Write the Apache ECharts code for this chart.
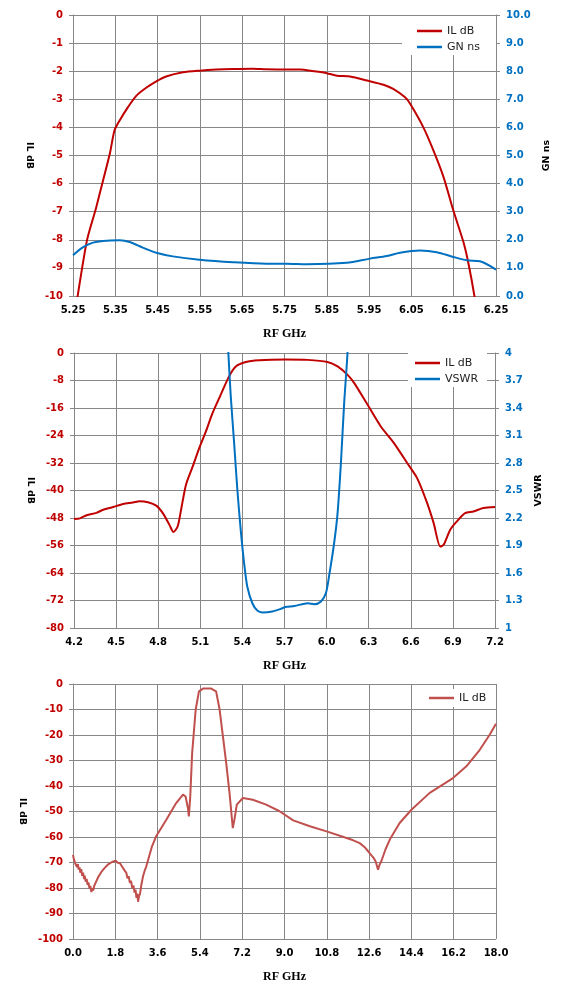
<!DOCTYPE html>
<html>
<head>
<meta charset="utf-8">
<script src="https://cdn.jsdelivr.net/npm/echarts@6/dist/echarts.min.js"></script>
<style>
html,body{margin:0;padding:0;background:#fff;}
#main{width:571px;height:1003px;}
</style>
</head>
<body>
<div id="main"></div>
<script>
// --- chart 1 : pass band, IL dB + GN ns ---
const c1IlFreq = [5.255, 5.261, 5.283, 5.303, 5.313, 5.337, 5.348, 5.360, 5.380, 5.400, 5.423, 5.447, 5.470, 5.510, 5.549, 5.589, 5.628, 5.675, 5.707, 5.754, 5.787, 5.819, 5.850, 5.874, 5.905, 5.945, 5.984, 6.007, 6.035, 6.047, 6.078, 6.102, 6.126, 6.149, 6.173, 6.185, 6.199, 6.203];
const c1Il = [-10.6, -10, -8.02, -6.95, -6.36, -4.94, -4.11, -3.76, -3.28, -2.87, -2.59, -2.36, -2.19, -2.04, -1.98, -1.94, -1.92, -1.91, -1.93, -1.94, -1.94, -2.0, -2.07, -2.16, -2.19, -2.33, -2.48, -2.63, -2.93, -3.16, -3.99, -4.82, -5.77, -6.95, -8.08, -8.85, -10, -10.5];
const c1GnFreq = [5.25, 5.274, 5.297, 5.321, 5.36, 5.384, 5.415, 5.447, 5.486, 5.549, 5.628, 5.707, 5.754, 5.803, 5.897, 5.952, 5.992, 6.023, 6.07, 6.11, 6.149, 6.181, 6.212, 6.25];
const c1Gn = [1.45, 1.74, 1.90, 1.96, 1.98, 1.92, 1.72, 1.54, 1.41, 1.29, 1.20, 1.15, 1.15, 1.13, 1.18, 1.33, 1.42, 1.54, 1.62, 1.56, 1.39, 1.27, 1.24, 0.94];

// --- chart 2 : 4.2 - 7.2 GHz, IL dB + VSWR ---
const c2IlFreq = [4.2, 4.243, 4.29, 4.36, 4.408, 4.479, 4.55, 4.62, 4.668, 4.727, 4.786, 4.833, 4.88, 4.909, 4.939, 4.963, 4.998, 5.046, 5.093, 5.14, 5.187, 5.246, 5.305, 5.353, 5.424, 5.518, 5.707, 5.865, 6.006, 6.078, 6.148, 6.196, 6.291, 6.385, 6.48, 6.574, 6.645, 6.716, 6.763, 6.81, 6.834, 6.881, 6.928, 6.987, 7.046, 7.117, 7.2];
const c2Il = [-48.3, -48.1, -47.2, -46.5, -45.6, -44.8, -43.9, -43.5, -43.1, -43.4, -44.4, -46.6, -50.0, -52.1, -50.4, -45.6, -38.3, -33.0, -27.6, -22.8, -17.5, -12.1, -6.8, -3.9, -2.6, -2.1, -1.9, -2.0, -2.6, -3.9, -6.3, -8.7, -15.0, -21.3, -26.2, -32.0, -36.4, -43.6, -49.5, -56.3, -55.8, -51.4, -49.0, -46.6, -46.1, -45.1, -44.8];
const c2VswrFreq = [5.29, 5.30, 5.317, 5.341, 5.364, 5.388, 5.412, 5.435, 5.471, 5.506, 5.542, 5.613, 5.676, 5.707, 5.771, 5.865, 5.913, 5.96, 5.995, 6.019, 6.054, 6.078, 6.102, 6.125, 6.149, 6.158];
const c2Vswr = [4.4, 4.0, 3.53, 3.02, 2.51, 2.07, 1.71, 1.45, 1.27, 1.19, 1.17, 1.18, 1.21, 1.23, 1.24, 1.27, 1.26, 1.29, 1.38, 1.58, 1.93, 2.25, 2.8, 3.45, 4.0, 4.4];

// --- chart 3 : wide band 0 - 18 GHz, IL dB (noisy below 3 GHz) ---
const c3Freq = [0.0, 0.03, 0.06, 0.1, 0.13, 0.17, 0.21, 0.24, 0.28, 0.31, 0.35, 0.39, 0.43, 0.47, 0.5, 0.54, 0.58, 0.62, 0.66, 0.7, 0.74, 0.78, 0.82, 0.86, 0.9, 0.94, 0.98, 1.03, 1.08, 1.14, 1.2, 1.27, 1.34, 1.42, 1.5, 1.58, 1.66, 1.74, 1.82, 1.9, 1.99, 2.06, 2.13, 2.2, 2.27, 2.32, 2.37, 2.42, 2.47, 2.52, 2.57, 2.62, 2.66, 2.7, 2.74, 2.77, 2.81, 2.85, 2.91, 2.98, 3.05, 3.12, 3.22, 3.35, 3.54, 3.97, 4.39, 4.68, 4.79, 4.89, 4.93, 4.99, 5.07, 5.22, 5.36, 5.53, 5.88, 6.09, 6.24, 6.38, 6.52, 6.66, 6.8, 6.87, 6.97, 7.23, 7.65, 8.22, 8.79, 9.37, 10.08, 10.79, 11.64, 11.9, 12.2, 12.4, 12.55, 12.7, 12.8, 12.88, 12.93, 12.98, 13.05, 13.12, 13.3, 13.48, 13.9, 14.4, 15.18, 16.17, 16.74, 17.31, 17.73, 18.0];
const c3Il = [-67, -68.5, -67.8, -70.5, -69.8, -71.8, -70.6, -72.8, -71.9, -74, -72.6, -75.2, -74, -76.5, -75.2, -77.5, -76.4, -78.8, -77.8, -80.2, -79.2, -81.6, -80.2, -81, -79.2, -79.8, -77.6, -77.8, -75.6, -75.5, -73.8, -73.6, -72.2, -71.9, -70.7, -70.9, -69.8, -70.3, -69.3, -70.1, -70.2, -71.2, -71.5, -73.2, -74.1, -76.2, -75.4, -78, -77.2, -80, -79, -81.8, -80.6, -83.9, -82.2, -85.4, -83.2, -82.4, -78.7, -75.4, -73.2, -71.5, -68.2, -64, -59.7, -53.2, -46.7, -43.4, -44.1, -48.6, -51.9, -44.1, -27.1, -10.1, -2.9, -1.8, -1.8, -2.9, -10.1, -20.5, -31, -42.7, -56.5, -53.2, -47.3, -44.7, -45.4, -47.3, -49.9, -53.5, -55.8, -57.8, -60.4, -61.2, -62.4, -63.9, -65.5, -67.2, -68.3, -69.6, -69.2, -72.8, -70.8, -69.5, -64.8, -61, -54.5, -49.3, -42.7, -36.9, -32.3, -25.8, -19.9, -15.6];

const zip = (a, b) => a.map((v, i) => [v, b[i]]);

const RED = '#C00000', BLUE = '#0070C0', RED3 = '#C0504D', GRID = '#878787';
const tickFont = {fontFamily: 'DejaVu Sans', fontWeight: 'bold', fontSize: 10};

function xAx(gi, min, max, step, dec){
    return {
        type: 'value', gridIndex: gi, min: min, max: max, interval: step,
        name: 'RF GHz', nameLocation: 'middle', nameGap: 32,
        nameTextStyle: {fontFamily: 'Liberation Serif', fontWeight: 'bold', fontSize: 12, color: '#000'},
        axisLine: {lineStyle: {color: GRID}},
        axisTick: {show: true, length: 4, lineStyle: {color: GRID}},
        axisLabel: Object.assign({color: '#000', margin: 9, formatter: v => v.toFixed(dec)}, tickFont),
        splitLine: {show: true, lineStyle: {color: GRID, width: 1}}
    };
}
function yAx(gi, pos, min, max, step, name, gap, color, fmt, split){
    return {
        type: 'value', gridIndex: gi, position: pos, min: min, max: max, interval: step,
        name: name, nameLocation: 'middle', nameGap: gap, nameRotate: pos === 'left' ? -90 : 90,
        nameTextStyle: {fontFamily: 'DejaVu Sans', fontWeight: 'bold', fontSize: 9.5, color: '#000'},
        axisLine: {show: true, lineStyle: {color: GRID}},
        axisTick: {show: true, length: 4, lineStyle: {color: GRID}},
        axisLabel: Object.assign({color: color, margin: 10, formatter: fmt}, tickFont),
        splitLine: {show: split, lineStyle: {color: GRID, width: 1}}
    };
}
function legend(left, top, pad, items){
    return {
        left: left, top: top, orient: 'vertical', align: 'left',
        backgroundColor: '#fff', padding: pad, itemGap: 2,
        icon: 'rect', itemWidth: 25, itemHeight: 2.5,
        textStyle: {fontFamily: 'DejaVu Sans', fontSize: 11, color: '#222', lineHeight: 14},
        data: items
    };
}

const myChart = echarts.init(document.getElementById('main'));

const option = {
    animation: false,
    backgroundColor: '#fff',
    grid: [
        {left: 73, top: 15, width: 423, height: 281},
        {left: 74, top: 353, width: 421, height: 275},
        {left: 73, top: 684, width: 423, height: 255}
    ],
    xAxis: [
        xAx(0, 5.25, 6.25, 0.1, 2),
        xAx(1, 4.2, 7.2, 0.3, 1),
        xAx(2, 0, 18, 1.8, 1)
    ],
    yAxis: [
        yAx(0, 'left', -10, 0, 1, 'IL dB', 37, RED, v => String(Math.round(v)), true),
        yAx(0, 'right', 0, 10, 1, 'GN ns', 46, BLUE, v => v.toFixed(1), false),
        yAx(1, 'left', -80, 0, 8, 'IL dB', 36, RED, v => String(Math.round(v)), true),
        yAx(1, 'right', 1, 4, 0.3, 'VSWR', 39, BLUE, v => String(+v.toFixed(1)), false),
        yAx(2, 'left', -100, 0, 10, 'IL dB', 44, RED, v => String(Math.round(v)), true)
    ],
    legend: [
        legend(402, 16, [8, 16, 1, 15], [
            {name: 'IL dB', itemStyle: {color: RED}},
            {name: 'GN ns', itemStyle: {color: BLUE}}
        ]),
        legend(408, 353, [3, 9, 1, 7], [
            {name: 'IL dB', itemStyle: {color: RED}},
            {name: 'VSWR', itemStyle: {color: BLUE}}
        ]),
        legend(427, 689, [2, 3, 2, 2], [
            {name: 'IL dB', itemStyle: {color: RED3}}
        ])
    ],
    series: [
        {name: 'IL dB', type: 'line', xAxisIndex: 0, yAxisIndex: 0, data: zip(c1IlFreq, c1Il),
            showSymbol: false, smooth: 0.25, lineStyle: {color: RED, width: 2}, itemStyle: {color: RED}},
        {name: 'GN ns', type: 'line', xAxisIndex: 0, yAxisIndex: 1, data: zip(c1GnFreq, c1Gn),
            showSymbol: false, smooth: 0.3, lineStyle: {color: BLUE, width: 2}, itemStyle: {color: BLUE}},
        {name: 'IL dB', type: 'line', xAxisIndex: 1, yAxisIndex: 2, data: zip(c2IlFreq, c2Il),
            showSymbol: false, smooth: 0.25, lineStyle: {color: RED, width: 2}, itemStyle: {color: RED}},
        {name: 'VSWR', type: 'line', xAxisIndex: 1, yAxisIndex: 3, data: zip(c2VswrFreq, c2Vswr),
            showSymbol: false, smooth: 0.25, lineStyle: {color: BLUE, width: 2}, itemStyle: {color: BLUE}},
        {name: 'IL dB', type: 'line', xAxisIndex: 2, yAxisIndex: 4, data: zip(c3Freq, c3Il),
            showSymbol: false, lineStyle: {color: RED3, width: 2}, itemStyle: {color: RED3}}
    ]
};

myChart.setOption(option);
</script>
</body>
</html>
